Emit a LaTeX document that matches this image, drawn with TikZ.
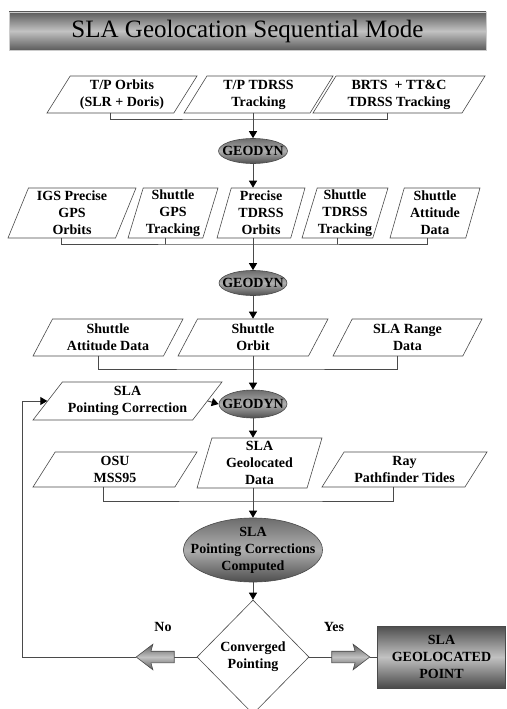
\documentclass[tikz,border=0pt]{standalone}
\usepackage{fontspec}
\setmainfont{Liberation Serif}
\usepackage{tikz}
\usetikzlibrary{arrows.meta,shapes.geometric,shapes.arrows}
\definecolor{edge}{HTML}{4A4A4A}
\definecolor{shadedark}{HTML}{5C5C5C}
\definecolor{shadelight}{HTML}{C2C2C2}

\begin{document}
\begin{tikzpicture}[x=1pt, y=-1pt, line cap=round,
  >={Triangle[length=7pt, width=8pt, color=black]},
  lbl/.style={font=\bfseries\fontsize{14}{17}\selectfont, align=center},
  datain/.style={lbl, trapezium, trapezium stretches body, trapezium left angle=#1, trapezium right angle=\the\numexpr180-#1\relax, draw=edge, line width=0.6pt, fill=white, inner sep=0pt},
  geodyn/.style={lbl, ellipse, draw=edge, line width=0.6pt, top color=shadedark!90, bottom color=shadedark!85!black, middle color=shadelight!90!black, inner xsep=-40pt, inner ysep=0pt},
  wire/.style={draw=edge, line width=1pt},
  flow/.style={wire, ->},
  fatarrow/.style={single arrow, draw=edge, line width=0.6pt, top color=shadedark, bottom color=shadedark, middle color=shadelight, minimum height=38pt, minimum width=25pt, single arrow head extend=7pt, single arrow tip angle=75, single arrow head indent=2pt, inner xsep=0pt, inner ysep=5.5pt}]
\useasboundingbox (0,0) rectangle (506,709);
\node[draw=gray!40, top color=shadedark, bottom color=shadedark, middle color=shadelight, minimum width=477pt, minimum height=38pt, font=\fontsize{25}{30}\selectfont] (title) at (247.5,31) {SLA Geolocation Sequential Mode};
\node[datain=52, minimum width=150pt, minimum height=37pt] (tp1) at (122,94.5) {T/P Orbits\\(SLR + Doris)};
\node[datain=52, minimum width=149pt, minimum height=37pt] (tp2) at (258.5,94.5) {T/P TDRSS\\Tracking};
\node[datain=52, minimum width=172pt, minimum height=37pt] (tp3) at (399,94.5) {BRTS\ \ + TT\&C\\TDRSS Tracking};
\node[geodyn, minimum width=69pt, minimum height=25pt] (geo1) at (253,151) {GEODYN};
\node[datain=65, minimum width=128pt, minimum height=50pt] (igs) at (72,213) {IGS Precise\\GPS\\Orbits};
\node[datain=72, minimum width=90pt, minimum height=50pt] (sgps) at (173,213) {Shuttle\\GPS\\Tracking};
\node[datain=72, minimum width=88pt, minimum height=50pt] (ptdrss) at (261,213) {Precise\\TDRSS\\Orbits};
\node[datain=72, minimum width=86pt, minimum height=50pt] (stdrss) at (345,213) {Shuttle\\TDRSS\\Tracking};
\node[datain=72, minimum width=90pt, minimum height=50pt] (satt) at (435,213) {Shuttle\\Attitude\\Data};
\node[geodyn, minimum width=68pt, minimum height=25pt] (geo2) at (253,283) {GEODYN};
\node[datain=54, minimum width=150pt, minimum height=37pt] (satt2) at (108,337.5) {Shuttle\\Attitude Data};
\node[datain=54, minimum width=150pt, minimum height=37pt] (sorb) at (253,337.5) {Shuttle\\Orbit};
\node[datain=54, minimum width=149pt, minimum height=37pt] (srange) at (407.5,337.5) {SLA Range\\Data};
\node[datain=45, minimum width=189pt, minimum height=38pt] (pc) at (127.5,401) {SLA\\Pointing Correction};
\node[geodyn, minimum width=68pt, minimum height=28pt] (geo3) at (253,404) {GEODYN};
\node[datain=50, minimum width=164pt, minimum height=35pt] (osu) at (115,469.5) {OSU\\MSS95};
\node[datain=71, minimum width=125pt, minimum height=50pt] (sgeo) at (259.5,463) {SLA\\Geolocated\\Data};
\node[datain=50, minimum width=165pt, minimum height=35pt] (ray) at (404.5,469.5) {Ray\\Pathfinder Tides};
\node[geodyn, minimum width=139pt, minimum height=64pt, inner ysep=-6pt] (corr) at (253,550) {SLA\\Pointing Corrections\\Computed};
\node[lbl, diamond, aspect=1, draw=edge, line width=0.6pt, fill=white, minimum width=112pt, minimum height=114pt, inner sep=0pt] (conv) at (253,657) {Converged\\Pointing};
\node[fatarrow, shape border rotate=180] (noarr) at (159,657) {};
\node[fatarrow] (yesarr) at (347,657) {};
\node[lbl] (nolbl) at (163,627) {No};
\node[lbl] (yeslbl) at (334,627) {Yes};
\node[lbl, draw=edge, line width=0.6pt, top color=shadedark!85!black, bottom color=shadedark!80!black, middle color=shadelight, minimum width=128pt, minimum height=62pt] (point) at (441.5,657) {SLA\\GEOLOCATED\\POINT};
\coordinate (bus1) at (253,119);
\draw[wire] (tp1.bottom side) |- (bus1) -| (tp3.bottom side);
\draw[flow] (tp2.south -| geo1) -- (geo1.north);
\draw[flow] (geo1.south) -- (geo1.south |- ptdrss.north);
\coordinate (bus2) at (253,244);
\draw[wire] (igs.bottom side) |- (bus2) -| (satt.bottom side);
\draw[wire] (sgps.bottom side) -- (sgps.bottom side |- bus2);
\draw[wire] (stdrss.bottom side) -- (stdrss.bottom side |- bus2);
\draw[flow] (ptdrss.south -| geo2) -- (geo2.north);
\draw[flow] (geo2.south) -- (geo2.south |- sorb.north);
\coordinate (bus3) at (253,369);
\draw[wire] (satt2.bottom side) |- (bus3) -| (srange.bottom side);
\draw[flow] (sorb.south -| geo3) -- (geo3.north);
\draw[flow] (pc.right side) -- (geo3.west);
\draw[flow] (geo3.south) -- (geo3.south |- sgeo.north);
\coordinate (bus4) at (253,501);
\draw[wire] (osu.bottom side) |- (bus4) -| (ray.bottom side);
\draw[flow] (sgeo.south -| corr) -- (corr.north);
\draw[flow] (corr.south) -- (conv.north);
\draw[wire] (conv.west) -- (noarr.tail);
\coordinate (loop) at (22,657);
\draw[flow] (noarr.tip) -- (loop) |- (pc.left side);
\draw[wire] (conv.east) -- (yesarr.tail);
\draw[wire] (yesarr.tip) -- (point.west);
\end{tikzpicture}
\end{document}
